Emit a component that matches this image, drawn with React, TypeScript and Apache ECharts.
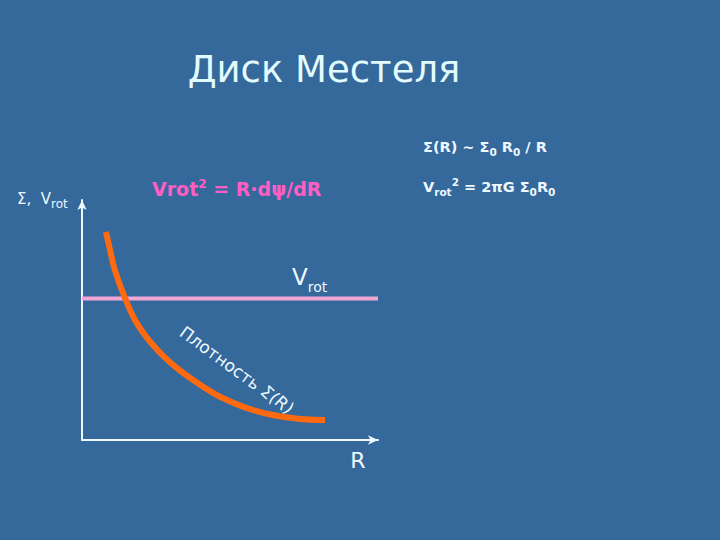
import React, { useEffect, useRef } from "react";
import * as echarts from "echarts";

// Density curve Σ(R) (arbitrary units)
const radius = [8.1, 9.5, 11.1, 14.5, 17.9, 22.3, 27.0, 32.4, 39.9, 46.6, 55.7, 64.5, 73.6, 82.1];
const density = [86.7, 79.0, 70.8, 59.2, 50.0, 42.0, 35.6, 29.6, 23.0, 18.0, 13.3, 10.4, 8.75, 8.3];
// Flat rotation curve V_rot
const vrotR = [0, 100];
const vrotV = [59, 59];

const titleText = "Диск Местеля";
const curveLabel = "Плотность Σ(R)";

const BG = "#35689b";
const WHITE = "#eef8ff";
const FONT = '"DejaVu Sans", "Liberation Sans", sans-serif';

function measure(ch: string, font: string): number {
  const c = document.createElement("canvas").getContext("2d");
  if (!c) return 10;
  c.font = font;
  return c.measureText(ch).width;
}

export default function App() {
  const ref = useRef<HTMLDivElement>(null);
  useEffect(() => {
    if (!ref.current) return;
    const chart = echarts.init(ref.current, undefined, { renderer: "svg" });

    // characters of the rotated label placed along a line
    const labFontSize = 17;
    const labFont = `${labFontSize}px "DejaVu Sans"`;
    const ang = (36 * Math.PI) / 180;
    const startX = 187;
    const startY = 334;
    const chars = curveLabel.split("");
    const widths = chars.map((c) => measure(c, labFont));
    let cum = 0;
    const charEls: any[] = [];
    chars.forEach((ch, i) => {
      const d = cum + widths[i] / 2 - widths[0] / 2;
      cum += widths[i];
      if (ch === " ") return;
      const extra = i >= 10 ? (8 * Math.PI) / 180 : 0;
      charEls.push({
        type: "text",
        x: startX + d * Math.cos(ang),
        y: startY + d * Math.sin(ang),
        rotation: -(ang + extra),
        style: {
          text: ch,
          fontSize: labFontSize,
          fontFamily: FONT,
          fill: WHITE,
          align: "center",
          verticalAlign: "middle",
        },
      });
    });

    const boldRich = (size: number, subSize: number, color: string) => ({
      a: { fontSize: size, fontWeight: "bold", fontFamily: FONT, fill: color, color, lineHeight: 21 },
      s: { fontSize: subSize, fontWeight: "bold", fontFamily: FONT, fill: color, color, verticalAlign: "bottom" },
      p: { fontSize: subSize, fontWeight: "bold", fontFamily: FONT, fill: color, color, verticalAlign: "top" },
    });

    chart.setOption({
      animation: false,
      backgroundColor: BG,
      grid: { left: 82, right: 342, top: 200, bottom: 100, containLabel: false },
      xAxis: {
        type: "value",
        min: 0,
        max: 100,
        axisLine: {
          show: true,
          onZero: false,
          symbol: ["none", "arrow"],
          symbolSize: [7, 10],
          lineStyle: { color: WHITE, width: 2 },
        },
        axisTick: { show: false },
        axisLabel: { show: false },
        splitLine: { show: false },
      },
      yAxis: {
        type: "value",
        min: 0,
        max: 100,
        axisLine: {
          show: true,
          onZero: false,
          symbol: ["none", "arrow"],
          symbolSize: [7, 10],
          lineStyle: { color: WHITE, width: 2 },
        },
        axisTick: { show: false },
        axisLabel: { show: false },
        splitLine: { show: false },
      },
      series: [
        {
          type: "line",
          name: "Vrot",
          data: vrotR.map((r, i) => [r, vrotV[i]]),
          showSymbol: false,
          lineStyle: { color: "#f2a7d6", width: 4 },
          z: 2,
        },
        {
          type: "line",
          name: "Σ(R)",
          data: radius.map((r, i) => [r, density[i]]),
          smooth: 0.3,
          showSymbol: false,
          lineStyle: { color: "#ff6a10", width: 6, join: "round" },
          z: 3,
        },
      ],
      graphic: [
        {
          type: "text",
          x: 324,
          y: 69,
          style: {
            text: titleText,
            fontSize: 37,
            fontFamily: FONT,
            fill: "#e2fbff",
            align: "center",
            verticalAlign: "middle",
          },
        },
        {
          type: "text",
          x: 423,
          y: 147,
          style: {
            text: "{a|Σ(R) ~ Σ}{s|0}{a| R}{s|0}{a| / R}",
            fill: WHITE,
            verticalAlign: "middle",
            align: "left",
            rich: boldRich(14.5, 10.5, WHITE),
          },
        },
        {
          type: "text",
          x: 423,
          y: 187,
          style: {
            text: "{a|V}{s|rot}{p|2}{a| = 2πG Σ}{s|0}{a|R}{s|0}",
            fill: WHITE,
            verticalAlign: "middle",
            align: "left",
            rich: boldRich(14.5, 10.5, WHITE),
          },
        },
        {
          type: "text",
          x: 152,
          y: 189,
          style: {
            text: "{a|Vrot}{p|2}{a| = R·dψ/dR}",
            fill: "#ff5ec4",
            verticalAlign: "middle",
            align: "left",
            rich: {
              a: { fontSize: 19, fontWeight: "bold", fontFamily: FONT, fill: "#ff5ec4", color: "#ff5ec4", lineHeight: 22 },
              p: { fontSize: 12, fontWeight: "bold", fontFamily: FONT, fill: "#ff5ec4", color: "#ff5ec4", verticalAlign: "top" },
            },
          },
        },
        {
          type: "text",
          x: 17,
          y: 199,
          style: {
            text: "{a|Σ,  V}{s|rot}",
            fill: WHITE,
            verticalAlign: "middle",
            align: "left",
            rich: {
              a: { fontSize: 15, fontFamily: FONT, fill: WHITE, color: WHITE, lineHeight: 21 },
              s: { fontSize: 12, fontFamily: FONT, fill: WHITE, color: WHITE, verticalAlign: "bottom" },
            },
          },
        },
        {
          type: "text",
          x: 292,
          y: 277,
          style: {
            text: "{v|V}{s|rot}",
            fill: WHITE,
            verticalAlign: "middle",
            align: "left",
            rich: {
              v: { fontSize: 23, fontFamily: FONT, fill: WHITE, color: WHITE, lineHeight: 34 },
              s: { fontSize: 14, fontFamily: FONT, fill: WHITE, color: WHITE, verticalAlign: "bottom" },
            },
          },
        },
        {
          type: "text",
          x: 358,
          y: 460,
          style: {
            text: "R",
            fontSize: 22,
            fontFamily: FONT,
            fill: WHITE,
            align: "center",
            verticalAlign: "middle",
          },
        },
        ...charEls,
      ],
    });
    return () => chart.dispose();
  }, []);
  return (
    <div
      ref={ref}
      style={{ position: "fixed", left: 0, top: 0, width: 720, height: 540 }}
    />
  );
}
